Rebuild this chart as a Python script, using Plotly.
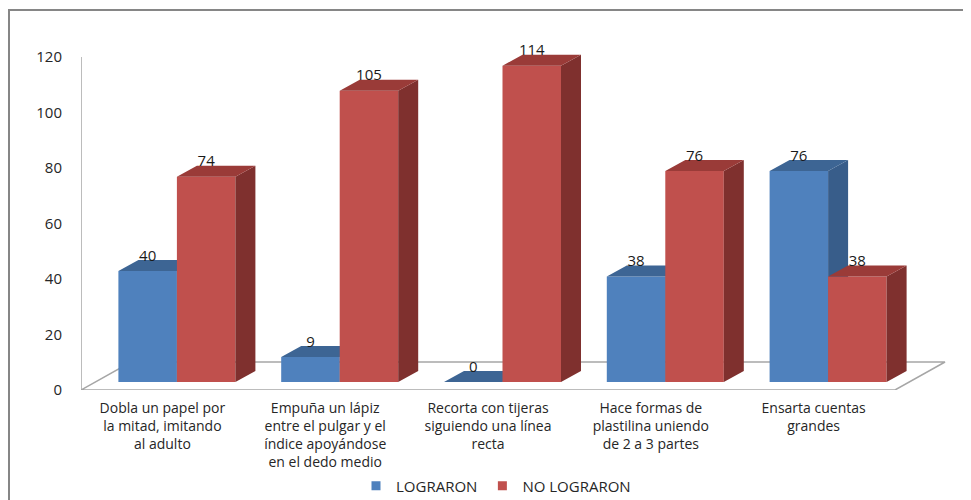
import plotly.graph_objects as go

categories = [
    "Dobla un papel por<br>la mitad, imitando<br>al adulto",
    "Empuña un lápiz<br>entre el pulgar y el<br>índice apoyándose<br>en el dedo medio",
    "Recorta con tijeras<br>siguiendo una línea<br>recta",
    "Hace formas de<br>plastilina uniendo<br>de 2 a 3 partes",
    "Ensarta cuentas<br>grandes",
]
lograron = [40, 9, 0, 38, 76]
no_lograron = [74, 105, 114, 76, 38]
y_ticks = [0, 20, 40, 60, 80, 100, 120]

# geometry (in axis units)
PX_X = 162.8   # px per category
PX_Y = 2.775   # px per value unit
FDX, FDY = 50 / PX_X, 28 / PX_Y      # floor depth
BFX, BFY = 14.5 / PX_X, 8 / PX_Y     # bar front plane offset
BDX, BDY = 20 / PX_X, 11 / PX_Y      # bar depth
BW = 58.5 / PX_X                     # bar width
N = len(categories)

FONT = "Open Sans"
TXT = "#262626"
colors = {
    "blue": ("#4f81bd", "#385d8a", "#3d6594"),
    "red": ("#c0504d", "#7f302e", "#9a3b38"),
}

fig = go.Figure()

# floor
fx = [0, N, N + FDX, FDX, 0]
fy = [0, 0, FDY, FDY, 0]
fig.add_trace(go.Scatter(x=fx, y=fy, mode="lines", line=dict(color="#a6a6a6", width=1.5),
                         hoverinfo="skip", showlegend=False))
# vertical axis line
fig.add_trace(go.Scatter(x=[0, 0], y=[0, y_ticks[-1]], mode="lines",
                         line=dict(color="#a6a6a6", width=1.5), hoverinfo="skip", showlegend=False))


def faces(values, shift):
    front_x, front_y, side_x, side_y, top_x, top_y = [], [], [], [], [], []
    for i, v in enumerate(values):
        x0 = i + 0.5 + shift + BFX
        x1 = x0 + BW
        y0 = BFY
        y1 = BFY + v
        front_x += [x0, x1, x1, x0, x0, None]
        front_y += [y0, y0, y1, y1, y0, None]
        side_x += [x1, x1 + BDX, x1 + BDX, x1, x1, None]
        side_y += [y0, y0 + BDY, y1 + BDY, y1, y0, None]
        top_x += [x0, x1, x1 + BDX, x0 + BDX, x0, None]
        top_y += [y1, y1, y1 + BDY, y1 + BDY, y1, None]
    return (front_x, front_y), (side_x, side_y), (top_x, top_y)


for values, shift, key in [(lograron, -BW, "blue"), (no_lograron, 0, "red")]:
    fcs = faces(values, shift)
    for idx in range(3):
        xs, ys = fcs[idx]
        fig.add_trace(go.Scatter(x=xs, y=ys, mode="lines", fill="toself",
                                 fillcolor=colors[key][idx], line=dict(width=0, color=colors[key][idx]),
                                 hoverinfo="skip", showlegend=False))

# data labels
for values, shift in [(lograron, -BW), (no_lograron, 0)]:
    lx = [i + 0.5 + shift + BFX + BW / 2 for i in range(N)]
    ly = [v + BFY + 14 / PX_Y for v in values]
    fig.add_trace(go.Scatter(x=lx, y=ly, mode="text", text=[str(v) for v in values],
                             textposition="middle center",
                             textfont=dict(family=FONT, size=15, color="#1a1a1a"),
                             hoverinfo="skip", showlegend=False, cliponaxis=False))

# legend entries
for name, key in [("LOGRARON", "blue"), ("NO LOGRARON", "red")]:
    fig.add_trace(go.Scatter(x=[None], y=[None], mode="markers", name=name,
                             marker=dict(symbol="square", size=9, color=colors[key][0])))

# page has an 8px body margin; positions below are in figure pixels
L = 73          # plot left edge
BOTTOM = 382    # plot bottom edge (value 0 on front plane)
W_PLOT = 869
H_PLOT = 345
fig.update_layout(
    width=971, height=500,
    margin=dict(l=L, r=971 - L - W_PLOT, t=BOTTOM - H_PLOT, b=500 - BOTTOM, autoexpand=False),
    paper_bgcolor="white", plot_bgcolor="white",
    font=dict(family=FONT, size=14, color=TXT),
    xaxis=dict(range=[0, W_PLOT / PX_X], tickvals=[i + 0.5 for i in range(N)], ticktext=categories,
               showgrid=False, zeroline=False, showline=False, ticks="outside", ticklen=5,
               tickcolor="rgba(0,0,0,0)", tickfont=dict(family=FONT, size=14, color=TXT)),
    yaxis=dict(range=[0, H_PLOT / PX_Y], tickvals=y_ticks, showgrid=False, zeroline=False,
               showline=False, ticks="outside", ticklen=15, tickcolor="rgba(0,0,0,0)",
               tickfont=dict(family=FONT, size=15, color=TXT)),
    showlegend=True,
    legend=dict(orientation="h", x=(488 - L) / W_PLOT, xanchor="center",
                y=(BOTTOM - 478) / H_PLOT, yanchor="middle",
                font=dict(family=FONT, size=15, color=TXT), itemwidth=30),
    shapes=[dict(type="rect", xref="paper", yref="paper",
                 x0=(1 - L) / W_PLOT, x1=(990 - L) / W_PLOT,
                 y0=(BOTTOM - 520) / H_PLOT, y1=(BOTTOM - 2) / H_PLOT,
                 line=dict(color="#868686", width=2), layer="below")],
)

fig.write_html("out.html")
